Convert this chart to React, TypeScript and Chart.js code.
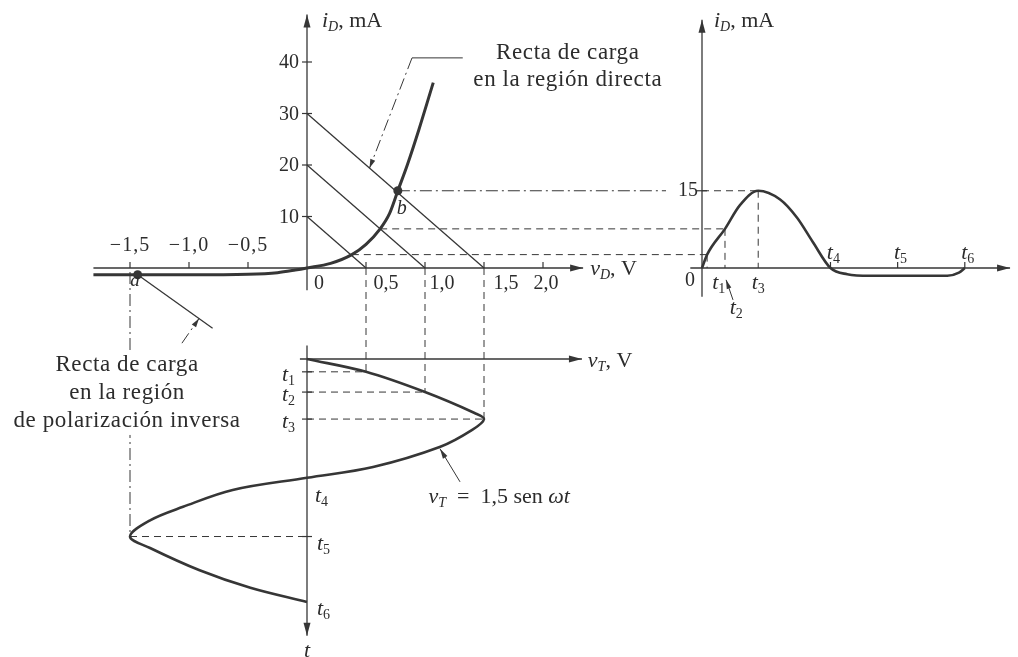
import { useEffect, useRef } from "react";
import { Chart, registerables } from "chart.js";

Chart.register(...registerables);

// ---- Diode characteristic i_D (mA) versus v_D (V) ----
const diodeV = [-1.81, -1.5, -1.0, -0.5, -0.25, -0.1, 0, 0.2, 0.38, 0.5, 0.62, 0.7, 0.77, 0.85, 0.95, 1.07];
const diodeI = [-1.3, -1.3, -1.3, -1.2, -0.9, -0.4, 0, 0.9, 2.6, 4.6, 7.6, 10.6, 15, 20, 27, 36];

// ---- Forward load lines: source voltage (V) and short-circuit current (mA) ----
const loadVT = [0.5, 1.0, 1.5];
const loadI0 = [10, 20, 30];

// Operating points where each load line meets the characteristic
const opV = [0.38, 0.62, 0.77];
const opI = [2.6, 7.6, 15];

// Reverse-bias load line (v_T = -1.5 V) starting at operating point a
const reverseLineV = [-1.435, -0.8];
const reverseLineI = [-1.3, -11.7];
const pointA = { v: -1.435, i: -1.3 };

// ---- Source voltage v_T = 1,5 sen ωt (ωt in degrees) ----
const sineDeg = [0, 19, 49, 80, 89, 105, 130, 160, 176, 194, 219, 239, 263, 280, 313, 339, 360];
const sineV = [0, 0.5, 1.0, 1.42, 1.5, 1.4, 1.13, 0.56, 0, -0.63, -1.05, -1.33, -1.5, -1.33, -0.91, -0.48, 0];
const tickDegBottom = [19, 49, 89, 176, 263, 360];

// ---- Diode current versus time ----
const respDeg = [0, 7, 31.5, 52, 77, 107, 130, 152, 176, 199, 230, 300, 336, 352, 360];
const respI = [0, 2.6, 7.6, 12.2, 15, 13.3, 9.8, 5.0, 0, -1.2, -1.5, -1.5, -1.5, -0.9, 0];
const tickDegRight = [7, 31.5, 77, 176, 268, 360];

const instantNames = ["1", "2", "3", "4", "5", "6"];

// ---- Axis ticks ----
const yTicks = [10, 20, 30, 40];
const vNegTicks = [-1.5, -1.0, -0.5];
const vPosTicks = [0.5, 1.0, 1.5, 2.0];

// ---- Layout ----
const W = 1018;
const H = 657;
const ORIGIN_VX = 307; // v = 0
const ORIGIN_IY = 268; // i = 0
const ORIGIN_TB = 359; // bottom plot, t = 0
const ORIGIN_TR = 702; // right plot, t = 0
const PX_PER_V = 118;
const PX_PER_MA = 5.15;
const PX_PER_DEG_B = 0.675;
const PX_PER_DEG_R = 0.73;
const vPosLabelShift = [20, 17, 22, 3];

const INK = "#363636";
const TEXT = "#2c2c2c";
const SERIF = '"Liberation Serif", "Times New Roman", serif';
const DASH = [7, 5];
const DASH_DOT = [12, 4, 2, 4];

type Part = { s: string; it?: boolean; sub?: boolean };

const fmt = (v: number) => (v < 0 ? "\u2212" : "") + Math.abs(v).toFixed(1).replace(".", ",");

function font(size: number, italic = false) {
  return `${italic ? "italic " : ""}${size}px ${SERIF}`;
}

function rich(ctx: any, parts: Part[], x: number, y: number, size: number, align = "left") {
  const subSize = Math.round(size * 0.64);
  const widths = parts.map((p) => {
    ctx.font = font(p.sub ? subSize : size, p.it);
    return ctx.measureText(p.s).width;
  });
  const total = widths.reduce((a, b) => a + b, 0);
  let cx = align === "left" ? x : align === "center" ? x - total / 2 : x - total;
  ctx.textAlign = "left";
  ctx.textBaseline = "middle";
  parts.forEach((p, k) => {
    ctx.font = font(p.sub ? subSize : size, p.it);
    ctx.fillText(p.s, cx, p.sub ? y + size * 0.28 : y);
    cx += widths[k];
  });
}

function seg(ctx: any, x1: number, y1: number, x2: number, y2: number, width = 1.2, dash: number[] = []) {
  ctx.save();
  ctx.lineWidth = width;
  ctx.setLineDash(dash);
  ctx.beginPath();
  ctx.moveTo(x1, y1);
  ctx.lineTo(x2, y2);
  ctx.stroke();
  ctx.restore();
}

function arrow(ctx: any, x1: number, y1: number, x2: number, y2: number, len: number, half: number) {
  const a = Math.atan2(y2 - y1, x2 - x1);
  const bx = x2 - len * Math.cos(a);
  const by = y2 - len * Math.sin(a);
  ctx.beginPath();
  ctx.moveTo(x2, y2);
  ctx.lineTo(bx + half * Math.sin(a), by - half * Math.cos(a));
  ctx.lineTo(bx - half * Math.sin(a), by + half * Math.cos(a));
  ctx.closePath();
  ctx.fill();
}

function axis(ctx: any, x1: number, y1: number, x2: number, y2: number) {
  seg(ctx, x1, y1, x2, y2, 1.3);
  arrow(ctx, x1, y1, x2, y2, 13, 3.5);
}

const diagramPlugin = {
  id: "diagram",
  beforeDatasetsDraw(chart: any) {
    const c = chart.ctx;
    const s = chart.scales;
    const X = (v: number) => s.x.getPixelForValue(v);
    const Y = (i: number) => s.y.getPixelForValue(i);
    const T = (d: number) => s.yT.getPixelForValue(d);
    const R = (d: number) => s.xR.getPixelForValue(d);
    c.save();
    c.strokeStyle = INK;
    c.fillStyle = INK;

    // i_D – v_D axes
    axis(c, X(-1.81), Y(0), X(2.34), Y(0));
    axis(c, X(0), Y(-4.3), X(0), Y(49.2));
    yTicks.forEach((v) => seg(c, X(0) - 5, Y(v), X(0) + 5, Y(v)));
    [...vNegTicks, ...vPosTicks].forEach((v) => seg(c, X(v), Y(0), X(v), Y(0) - 6));

    // v_T – t axes
    axis(c, X(-0.06), T(0), X(2.33), T(0));
    axis(c, X(0), T(-20), X(0), T(410));
    [0, 1, 2, 4].forEach((k) => seg(c, X(0) - 5, T(tickDegBottom[k]), X(0) + 5, T(tickDegBottom[k])));

    // i_D – t axes
    axis(c, R(0), Y(-5.6), R(0), Y(48.2));
    axis(c, R(-16), Y(0), R(422), Y(0));
    [3, 4, 5].forEach((k) => seg(c, R(tickDegRight[k]), Y(0), R(tickDegRight[k]), Y(0) - 6));
    seg(c, R(0) - 5, Y(15), R(0) + 5, Y(15));

    // source voltage instants projected onto the v_D axis
    loadVT.forEach((vt, k) => {
      const d = tickDegBottom[k];
      seg(c, X(vt), Y(0), X(vt), T(d), 1, DASH);
      seg(c, X(0), T(d), X(vt), T(d), 1, DASH);
    });
    seg(c, X(-1.5), Y(0) + 4, X(-1.5), T(tickDegBottom[4]), 1, DASH_DOT);
    seg(c, X(-1.5), T(tickDegBottom[4]), X(0), T(tickDegBottom[4]), 1, DASH);

    // operating points carried over to i_D(t)
    opI.forEach((i, k) => {
      const tr = tickDegRight[k];
      if (k === 2) {
        seg(c, X(opV[k]), Y(i), R(0) - 36, Y(i), 1, DASH_DOT);
        seg(c, R(0), Y(i), R(tr), Y(i), 1, DASH);
      } else {
        seg(c, X(opV[k]), Y(i), R(tr), Y(i), 1, DASH);
      }
      seg(c, R(tr), Y(i), R(tr), Y(0), 1, DASH);
    });

    // leaders
    seg(c, X(1.32), Y(40.8), X(0.89), Y(40.8), 1);
    seg(c, X(0.89), Y(40.8), X(0.53), Y(19.4), 1, DASH_DOT);
    arrow(c, X(0.89), Y(40.8), X(0.53), Y(19.4), 9, 2.6);

    seg(c, X(-1.06), Y(-14.6), X(-0.915), Y(-9.8), 1, DASH_DOT);
    arrow(c, X(-1.06), Y(-14.6), X(-0.915), Y(-9.8), 9, 2.6);

    seg(c, X(1.297), T(182), X(1.127), T(133), 1);
    arrow(c, X(1.297), T(182), X(1.127), T(133), 10, 2.6);

    seg(c, R(42.5), Y(-6.2), R(33), Y(-2.3), 1);
    arrow(c, R(42.5), Y(-6.2), R(33), Y(-2.3), 9, 2.4);

    c.restore();
  },
  afterDatasetsDraw(chart: any) {
    const c = chart.ctx;
    const s = chart.scales;
    const X = (v: number) => s.x.getPixelForValue(v);
    const Y = (i: number) => s.y.getPixelForValue(i);
    const T = (d: number) => s.yT.getPixelForValue(d);
    const R = (d: number) => s.xR.getPixelForValue(d);
    c.save();
    c.fillStyle = TEXT;

    // i_D – v_D tick labels
    yTicks.forEach((v) => rich(c, [{ s: String(v) }], X(0) - 8, Y(v) + 1, 20, "right"));
    c.letterSpacing = "1px";
    vNegTicks.forEach((v) => rich(c, [{ s: fmt(v) }], X(v), Y(0) - 22, 20, "center"));
    c.letterSpacing = "0px";
    rich(c, [{ s: "0" }], X(0) + 12, Y(0) + 16, 20, "center");
    vPosTicks.forEach((v, k) => rich(c, [{ s: fmt(v) }], X(v) + vPosLabelShift[k], Y(0) + 16, 20, "center"));

    rich(c, [{ s: "i", it: true }, { s: "D", it: true, sub: true }, { s: ", mA" }], X(0) + 15, Y(48.0), 22);
    rich(c, [{ s: "v", it: true }, { s: "D", it: true, sub: true }, { s: ", V" }], X(2.40), Y(0) + 1, 22);
    rich(c, [{ s: "b", it: true }], X(opV[2]) + 4, Y(opI[2]) - 18 + 36, 20, "center");
    rich(c, [{ s: "a", it: true }], X(-1.5) + 5, Y(0) + 13, 19, "center");

    // annotation for the forward load line
    c.letterSpacing = "0.6px";
    rich(c, [{ s: "Recta de carga" }], X(2.21), Y(41.7), 23, "center");
    rich(c, [{ s: "en la región directa" }], X(2.21), Y(36.5), 23, "center");

    // annotation for the reverse load line
    const inv = ["Recta de carga", "en la región", "de polarización inversa"];
    const invI = [-18.8, -24.3, -29.7];
    inv.forEach((line, k) => {
      c.font = font(23);
      const w = c.measureText(line).width;
      c.fillStyle = "#ffffff";
      c.fillRect(X(-1.525) - w / 2 - 3, Y(invI[k]) - 14, w + 6, 28);
      c.fillStyle = TEXT;
      rich(c, [{ s: line }], X(-1.525), Y(invI[k]), 23, "center");
    });
    c.letterSpacing = "0px";

    // v_T – t labels
    rich(c, [{ s: "v", it: true }, { s: "T", it: true, sub: true }, { s: ", V" }], X(2.38), T(0) + 2, 22);
    rich(c, [{ s: "t", it: true }], X(0), T(433), 22, "center");
    [0, 1, 2].forEach((k) =>
      rich(c, [{ s: "t", it: true }, { s: instantNames[k], sub: true }], X(0) - 12, T(tickDegBottom[k]) + 3, 22, "right")
    );
    rich(c, [{ s: "t", it: true }, { s: instantNames[3], sub: true }], X(0) + 8, T(tickDegBottom[3]) + 18, 22);
    rich(c, [{ s: "t", it: true }, { s: instantNames[4], sub: true }], X(0) + 10, T(tickDegBottom[4]) + 8, 22);
    rich(c, [{ s: "t", it: true }, { s: instantNames[5], sub: true }], X(0) + 10, T(tickDegBottom[5]) + 7, 22);
    rich(
      c,
      [{ s: "v", it: true }, { s: "T", it: true, sub: true }, { s: "  =  1,5 sen " }, { s: "ωt", it: true }],
      X(1.03),
      T(205),
      22
    );

    // i_D – t labels
    rich(c, [{ s: "i", it: true }, { s: "D", it: true, sub: true }, { s: ", mA" }], R(0) + 12, Y(47.9), 22);
    rich(c, [{ s: "15" }], R(0) - 4, Y(15), 20, "right");
    rich(c, [{ s: "0" }], R(0) - 12, Y(0) + 13, 20, "center");
    const rightLabelAt = [
      { d: 23, dy: 15 },
      { d: 47, dy: 40 },
      { d: 77, dy: 15 },
      { d: 180, dy: -15 },
      { d: 272, dy: -15 },
      { d: 364, dy: -15 },
    ];
    rightLabelAt.forEach((p, k) =>
      rich(c, [{ s: "t", it: true }, { s: instantNames[k], sub: true }], R(p.d), Y(0) + p.dy, 22, "center")
    );

    c.restore();
  },
};

const line = (data: any[], xAxisID: string, yAxisID: string, width: number, extra: any = {}) => ({
  data,
  xAxisID,
  yAxisID,
  showLine: true,
  borderColor: INK,
  borderWidth: width,
  pointRadius: 0,
  fill: false,
  ...extra,
});

export default function App() {
  const ref = useRef<HTMLCanvasElement>(null);

  useEffect(() => {
    const datasets: any[] = [
      line(diodeV.map((v, k) => ({ x: v, y: diodeI[k] })), "x", "y", 3, { cubicInterpolationMode: "monotone" }),
      ...loadVT.map((vt, k) => line([{ x: 0, y: loadI0[k] }, { x: vt, y: 0 }], "x", "y", 1.3)),
      line(reverseLineV.map((v, k) => ({ x: v, y: reverseLineI[k] })), "x", "y", 1.3),
      line(sineV.map((v, k) => ({ x: v, y: sineDeg[k] })), "x", "yT", 2.6, { tension: 0.35 }),
      line(respDeg.map((d, k) => ({ x: d, y: respI[k] })), "xR", "y", 2.6, { cubicInterpolationMode: "monotone" }),
      {
        data: [
          { x: pointA.v, y: pointA.i },
          { x: opV[2], y: opI[2] },
        ],
        xAxisID: "x",
        yAxisID: "y",
        showLine: false,
        pointRadius: 4.5,
        pointBackgroundColor: INK,
        pointBorderWidth: 0,
      },
    ];

    const chart = new Chart(ref.current as HTMLCanvasElement, {
      type: "scatter",
      data: { datasets },
      options: {
        animation: false,
        responsive: true,
        maintainAspectRatio: false,
        events: [],
        layout: { padding: 0, autoPadding: false },
        plugins: { legend: { display: false }, tooltip: { enabled: false }, title: { display: false } },
        scales: {
          x: { type: "linear", axis: "x", display: false, min: -ORIGIN_VX / PX_PER_V, max: (W - ORIGIN_VX) / PX_PER_V },
          y: { type: "linear", axis: "y", display: false, min: -(H - ORIGIN_IY) / PX_PER_MA, max: ORIGIN_IY / PX_PER_MA },
          yT: {
            type: "linear",
            axis: "y",
            display: false,
            reverse: true,
            min: -ORIGIN_TB / PX_PER_DEG_B,
            max: (H - ORIGIN_TB) / PX_PER_DEG_B,
          },
          xR: { type: "linear", axis: "x", display: false, min: -ORIGIN_TR / PX_PER_DEG_R, max: (W - ORIGIN_TR) / PX_PER_DEG_R },
        },
      } as any,
      plugins: [diagramPlugin],
    });
    return () => chart.destroy();
  }, []);

  return (
    <div style={{ position: "absolute", left: 0, top: 0, width: W, height: H, background: "#ffffff" }}>
      <canvas ref={ref} />
    </div>
  );
}
